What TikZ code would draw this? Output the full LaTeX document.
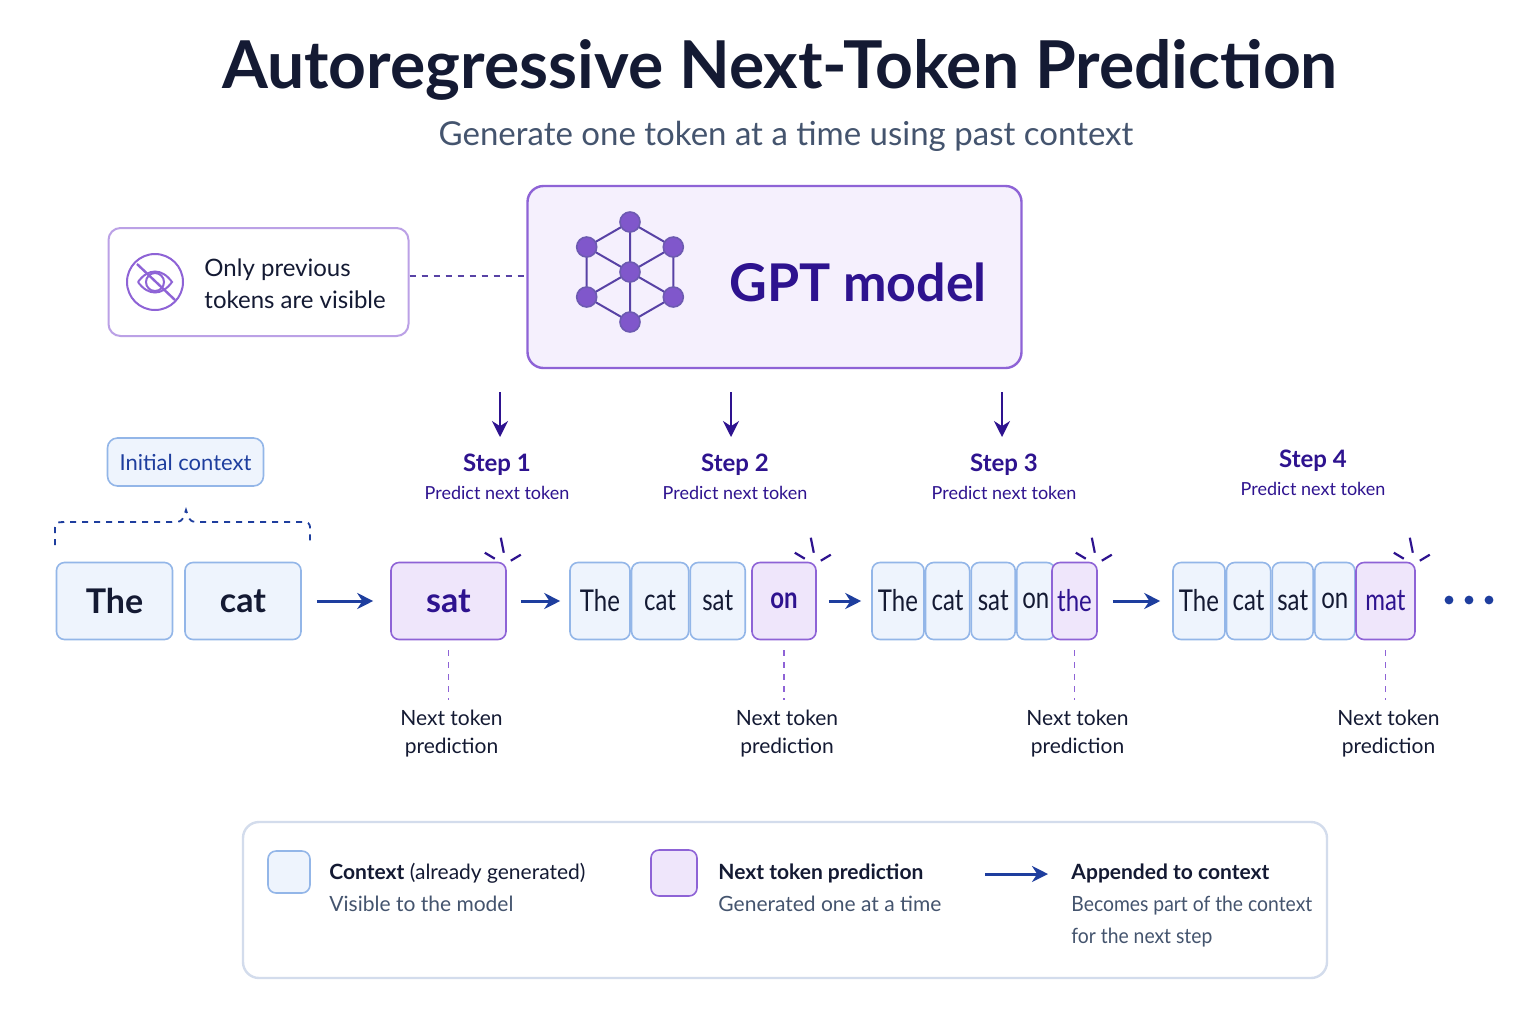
\documentclass[tikz,border=0pt]{standalone}
\usepackage{fontspec}
\setmainfont{Lato}
\usetikzlibrary{arrows.meta,positioning,calc}
\definecolor{ink}{HTML}{141A33}
\definecolor{subgray}{HTML}{44546E}
\definecolor{ctxline}{HTML}{93B6E8}
\definecolor{ctxfill}{HTML}{EEF4FD}
\definecolor{prdline}{HTML}{8E63D6}
\definecolor{prdfill}{HTML}{EFE6FB}
\definecolor{deep}{HTML}{2E138F}
\definecolor{arrblue}{HTML}{1E3E9E}
\definecolor{legline}{HTML}{D3DCEC}
\newcommand\tight[1]{\scalebox{0.8}[1]{#1}}
\newcommand\snug[1]{\scalebox{0.92}[1]{#1}}

\begin{document}
\begin{tikzpicture}[x=0.5pt,y=-0.5pt,>={Stealth[length=8pt,width=8pt]},line width=0.8pt]
  \tikzstyle{ctx}=[rectangle,rounded corners=4pt,draw=ctxline,fill=ctxfill,
                   minimum height=38.5pt,inner sep=0pt,text=ink]
  \tikzstyle{big}=[ctx,minimum width=58pt,font=\fontsize{17}{20}\selectfont\bfseries]
  \tikzstyle{small}=[ctx,font=\fontsize{15}{16}\selectfont]
  \tikzstyle{pred}=[draw=prdline,fill=prdfill,text=deep]
  \tikzstyle{flow}=[->,draw=arrblue,line width=1.5pt]
  \tikzstyle{drop}=[draw=prdline,dashed,line width=0.9pt]
  \tikzstyle{note}=[align=center,text=ink,font=\fontsize{10.5}{14}\selectfont]
  \tikzstyle{steplab}=[align=center,text=deep,font=\fontsize{12}{15}\selectfont]
  \tikzstyle{dot}=[circle,fill=prdline!85!deep,draw=deep!70,inner sep=0pt,minimum size=10pt]
  \tikzstyle{legtext}=[anchor=north west,align=left,text=ink,font=\fontsize{10.5}{16}\selectfont]

  \useasboundingbox[fill=white] (0,0) rectangle (1536,1024);

  % title
  \node[text=ink,font=\fontsize{33}{38}\selectfont\bfseries] (title) at (780,70) {Autoregressive Next-Token Prediction};
  \node[text=subgray,font=\fontsize{16.5}{20}\selectfont] (sub) at (786,136) {Generate one token at a time using past context};

  % model box
  \node[rectangle,rounded corners=8pt,draw=prdline,fill=prdfill!60,line width=1.2pt,
        minimum width=247pt,minimum height=91pt] (gpt) at (774.5,277) {};
  \node[text=deep,font=\fontsize{26}{30}\selectfont\bfseries] (gptlab) at (858,282) {GPT model};
  \foreach \n/\a in {v1/90,v2/30,v3/-30,v4/-90,v5/-150,v6/150}
    \coordinate (\n) at ($(630,272)+(\a:-50)$);
  \draw[deep!80,line width=1pt] (v1)--(v2)--(v3)--(v4)--(v5)--(v6)--cycle
    (630,272)--(v4) (630,272)--(v2) (630,272)--(v6) (630,272)--(v1) (630,272)--(v3) (630,272)--(v5);
  \foreach \n in {v1,v2,v3,v4,v5,v6} \node[dot] at (\n) {};
  \node[dot] (hub) at (630,272) {};

  % visibility note
  \node[rectangle,rounded corners=6pt,draw=prdline!60,fill=white,line width=1pt,
        minimum width=150pt,minimum height=54pt] (vis) at (258.5,282) {};
  \node[anchor=west,align=left,text=ink,font=\fontsize{12}{16}\selectfont] (vislab) at (197,284) {Only previous\\tokens are visible};
  \draw[prdline,line width=1pt] (155,282) circle (14pt);
  \draw[prdline,line width=1pt] (138,282) .. controls (148,268) and (162,268) .. (172,282)
                                          .. controls (162,296) and (148,296) .. (138,282);
  \draw[prdline,line width=1pt] (155,282) circle (4.5pt);
  \draw[prdline,line width=1.2pt] (137,264) -- (175,300);
  \draw[drop,draw=deep!80] (vis.east|-0,276) -- (gpt.west|-0,276);

  % steps
  \foreach \x in {500,731,1002}
    \draw[->,draw=deep,line width=1.1pt] (\x,392) -- (\x,437);
  \node[steplab] (s1) at (497,477) {\textbf{Step 1}\\[-1pt]\small Predict next token};
  \node[steplab] (s2) at (735,477) {\textbf{Step 2}\\[-1pt]\small Predict next token};
  \node[steplab] (s3) at (1004,477) {\textbf{Step 3}\\[-1pt]\small Predict next token};
  \node[steplab] (s4) at (1313,473) {\textbf{Step 4}\\[-1pt]\small Predict next token};

  % initial context
  \node[rectangle,rounded corners=5pt,draw=ctxline,fill=ctxfill,minimum width=78pt,minimum height=24pt,
        text=arrblue,font=\fontsize{11}{13}\selectfont] (init) at (185.5,462) {Initial context};
  \draw[arrblue,dashed,line width=0.9pt] (55,545) -- (55,530) .. controls (55,522) .. (70,522) -- (170,522)
     .. controls (182,522) .. (186,510) .. controls (190,522) .. (202,522) -- (296,522) .. controls (310,522) .. (310,530) -- (310,545);

  % tokens
  \node[big] (t1) at (114.5,601) {The};
  \node[big] (t2) at (243,601) {cat};
  \node[big,pred,minimum width=57.5pt] (p1) at (448.5,601) {sat};

  \node[small,minimum width=30pt] (a1) at (600,601) {\tight{The}};
  \node[small,minimum width=28.5pt,right=0pt of a1] (a2) {\tight{cat}};
  \node[small,minimum width=27.5pt,right=0pt of a2] (a3) {\tight{sat}};
  \node[small,pred,minimum width=32pt] (p2) at (784,601) {\tight{\bfseries on}};

  \node[small,minimum width=26pt] (b1) at (898,601) {\tight{The}};
  \node[small,minimum width=22pt,right=0pt of b1] (b2) {\tight{cat}};
  \node[small,minimum width=22pt,right=0pt of b2] (b3) {\tight{sat}};
  \node[small,minimum width=19pt,right=0pt of b3] (b4) {\tight{on}};
  \node[small,pred,minimum width=22.5pt] (p3) at (1074.5,601) {\tight{the}};

  \node[small,minimum width=26pt] (c1) at (1199,601) {\tight{The}};
  \node[small,minimum width=22pt,right=0pt of c1] (c2) {\tight{cat}};
  \node[small,minimum width=20.5pt,right=0pt of c2] (c3) {\tight{sat}};
  \node[small,minimum width=20pt,right=0pt of c3] (c4) {\tight{on}};
  \node[small,pred,minimum width=29.5pt] (p4) at (1385.5,601) {\tight{mat}};
  \foreach \x in {1449,1469,1489} \fill[arrblue] (\x,600) circle (2.2pt);

  \draw[flow] ($(t2.east)+(15,0)$) -- ($(p1.west)+(-17,0)$);
  \draw[flow] ($(p1.east)+(14,0)$) -- ($(a1.west)+(-9,0)$);
  \draw[flow] ($(p2.east)+(12,0)$) -- ($(b1.west)+(-10,0)$);
  \draw[flow] ($(p3.east)+(15,0)$) -- ($(c1.west)+(-12,0)$);

  % sparkles and prediction notes
  \foreach \p in {p1,p2,p3,p4} {
    \draw[deep,line width=1.1pt]
      ($(\p.north east)+(-12,-3)$) -- ($(\p.north east)+(-22,-9)$)
      ($(\p.north east)+(-3,-9)$) -- ($(\p.north east)+(-6,-24)$)
      ($(\p.north east)+(4,-1)$) -- ($(\p.north east)+(14,-7)$);
    \draw[drop] ($(\p.south)+(0,10)$) -- ($(\p.south)+(0,60)$);
    \node[note] at ($(\p.south)+(3,93)$) {Next token\\prediction};
  }

  % legend
  \node[rectangle,rounded corners=8pt,draw=legline,fill=white,line width=1.2pt,
        minimum width=542pt,minimum height=78pt] (leg) at (785,900) {};
  \node[rectangle,rounded corners=4pt,draw=ctxline,fill=ctxfill,minimum size=21pt] (k1) at (289,872) {};
  \node[legtext] (l1) at (322,856)
    {\textbf{Context} (already generated)\\{\color{subgray}Visible to the model}};
  \node[rectangle,rounded corners=4pt,draw=prdline,fill=prdfill,minimum size=23pt] (k2) at (674,873) {};
  \node[legtext] (l2) at (711,856)
    {\textbf{Next token prediction}\\{\color{subgray}Generated one at a time}};
  \coordinate (k3a) at (985,874); \coordinate (k3b) at (1048,874);
  \draw[flow] (k3a) -- (k3b);
  \node[legtext] (l3) at (1064,856)
    {\textbf{Appended to context}\\{\color{subgray}\snug{Becomes part of the context}}\\{\color{subgray}\snug{for the next step}}};
\end{tikzpicture}
\end{document}
